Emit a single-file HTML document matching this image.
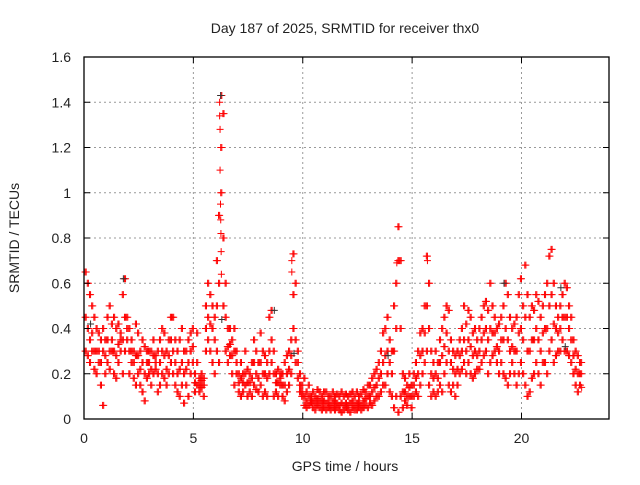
<!DOCTYPE html>
<html><head><meta charset="utf-8"><style>
body{margin:0;background:#fff;}
svg text{font-family:"Liberation Sans",sans-serif;fill:#222;}
</style></head><body>
<svg id="chart" width="640" height="480" viewBox="0 0 640 480" xmlns="http://www.w3.org/2000/svg">
<rect width="640" height="480" fill="#fff"/>
<text x="345" y="33" font-size="14" text-anchor="middle">Day 187 of 2025, SRMTID for receiver thx0</text>
<text x="345" y="471" font-size="14" text-anchor="middle">GPS time / hours</text>
<text x="0" y="0" font-size="14" text-anchor="middle" transform="translate(19,238) rotate(-90)">SRMTID / TECUs</text>
<g id="grid"></g><g id="marks"></g><g id="axes"></g>
</svg>
<script>
const xTicks=[0,5,10,15,20];
const yTicks=[0,0.2,0.4,0.6,0.8,1,1.2,1.4,1.6];
const yTickLabels=["0","0.2","0.4","0.6","0.8","1","1.2","1.4","1.6"];
const srmtidUpper=[.65,.6,.55,.5,.45,.4,.38,.35,.4,.35,
.45,.5,.42,.45,.4,.42,.38,.55,.62,.45,
.4,.35,.3,.42,.38,.3,.35,.32,.3,.3,
.3,.35,.28,.3,.35,.4,.38,.3,.35,.45,
.45,.35,.3,.35,.4,.3,.3,.35,.38,.4,
.2,.38,.18,.2,.18,.5,.6,.55,.5,.45,
.7,.9,1.43,1.35,.6,.4,.4,.35,.4,.3,
.2,.25,.2,.3,.22,.2,.25,.35,.3,.25,
.38,.3,.28,.25,.45,.48,.3,.2,.22,.2,
.2,.25,.28,.3,.35,.73,.6,.3,.2,.15,
.18,.12,.15,.1,.12,.1,.13,.12,.1,.12,
.12,.1,.1,.12,.1,.11,.1,.12,.1,.11,
.1,.11,.12,.1,.12,.1,.11,.13,.12,.15,
.15,.18,.2,.22,.25,.3,.38,.4,.45,.35,
.3,.5,.6,.85,.7,.2,.18,.15,.2,.15,
.2,.25,.3,.38,.4,.5,.72,.6,.3,.25,
.3,.25,.35,.4,.45,.5,.48,.35,.3,.28,
.3,.35,.4,.5,.42,.48,.45,.38,.4,.35,
.4,.45,.5,.52,.48,.6,.5,.45,.4,.42,
.45,.5,.6,.55,.45,.4,.42,.45,.55,.62,
.5,.68,.55,.45,.5,.48,.55,.52,.45,.5,
.55,.6,.72,.75,.6,.5,.45,.5,.55,.6,
.58,.5,.45,.35,.3,.28,.25,.25];
const srmtidLower=[.3,.28,.25,.3,.22,.2,.25,.15,.06,.2,
.25,.22,.3,.2,.18,.25,.3,.2,.3,.35,
.2,.25,.18,.15,.2,.15,.12,.08,.18,.2,
.15,.2,.22,.12,.15,.2,.18,.15,.2,.25,
.2,.15,.12,.1,.15,.07,.15,.1,.2,.25,
.12,.15,.12,.14,.1,.3,.35,.3,.25,.2,
.3,.25,1.0,.5,.3,.25,.28,.2,.15,.2,
.12,.1,.12,.15,.1,.12,.1,.15,.13,.12,
.15,.1,.12,.1,.2,.25,.1,.12,.1,.15,
.1,.08,.12,.15,.2,.4,.25,.18,.12,.1,
.06,.05,.06,.07,.05,.04,.06,.05,.04,.05,
.04,.05,.04,.05,.04,.05,.04,.03,.04,.05,
.04,.03,.05,.04,.04,.05,.04,.05,.06,.05,
.07,.06,.08,.1,.1,.12,.15,.15,.2,.12,
.1,.05,.1,.03,.1,.05,.08,.06,.1,.05,
.1,.12,.1,.15,.2,.25,.3,.15,.1,.12,
.1,.12,.15,.12,.2,.25,.15,.12,.15,.1,
.15,.2,.22,.25,.2,.25,.2,.18,.2,.22,
.22,.25,.28,.3,.2,.25,.28,.3,.25,.2,
.25,.2,.18,.15,.2,.25,.2,.15,.2,.25,
.2,.15,.1,.12,.18,.2,.25,.2,.15,.25,
.25,.2,.3,.35,.25,.28,.3,.3,.35,.3,
.3,.28,.25,.2,.15,.12,.15,.14];
const srmtidMid=[.45,.4,.35,.38,.3,.3,.3,.25,.3,.28,
.35,.3,.35,.3,.28,.33,.35,.35,.45,.4,
.3,.3,.25,.28,.28,.22,.25,.2,.25,.25,
.22,.28,.25,.2,.25,.3,.28,.22,.28,.35,
.3,.25,.2,.22,.25,.2,.22,.25,.3,.32,
.16,.25,.15,.17,.15,.4,.45,.42,.4,.35,
.5,.6,1.2,.8,.45,.32,.33,.28,.3,.25,
.16,.18,.16,.2,.16,.16,.18,.25,.2,.18,
.25,.2,.2,.18,.3,.35,.2,.16,.16,.18,
.15,.15,.2,.22,.28,.55,.35,.25,.15,.12,
.1,.08,.1,.08,.08,.07,.09,.08,.07,.08,
.07,.07,.06,.08,.07,.07,.06,.07,.06,.07,
.06,.07,.08,.06,.07,.07,.06,.08,.09,.1,
.1,.12,.14,.15,.18,.2,.25,.28,.3,.25,
.2,.3,.4,.7,.4,.12,.12,.1,.14,.1,
.15,.18,.2,.28,.3,.38,.5,.4,.2,.18,
.2,.18,.25,.28,.32,.38,.3,.25,.22,.2,
.22,.28,.3,.35,.3,.35,.32,.28,.3,.28,
.3,.35,.38,.4,.35,.4,.38,.38,.32,.3,
.35,.35,.4,.35,.3,.32,.3,.3,.38,.4,
.35,.45,.3,.3,.35,.35,.4,.35,.3,.38,
.4,.4,.5,.55,.42,.4,.38,.4,.45,.45,
.45,.4,.35,.28,.22,.2,.2,.2];
const spikeHours=[6.2,6.2,6.22,6.22,6.24,6.25,6.26,6.27,6.28,14.3,9.5,9.5,15.7];
const spikeVals=[1.4,1.34,1.28,1.1,0.95,0.88,0.82,0.74,0.64,0.69,0.7,0.65,0.7];
const blackHours=[1.8,6.3,6.25,9.6,13.9,19.2,21.8,22.0,8.7,0.3];
const blackVals=[0.62,0.44,1.43,0.29,0.28,0.6,0.58,0.32,0.48,0.42];

const L=84,R=609,T=57,B=419,X0=0,X1=24,Y0=0,Y1=1.6;
const sx=h=>L+(h-X0)/(X1-X0)*(R-L);
const sy=v=>B-(v-Y0)/(Y1-Y0)*(B-T);
const NS="http://www.w3.org/2000/svg";
function mk(tag,parent,attrs){const e=document.createElementNS(NS,tag);for(const k in attrs)e.setAttribute(k,attrs[k]);parent.appendChild(e);return e;}
const grid=document.getElementById('grid'),marks=document.getElementById('marks'),axes=document.getElementById('axes');
yTicks.forEach((v,i)=>{
  const y=sy(v);
  if(i>0&&i<yTicks.length-1){const g=mk('line',grid,{x1:L,x2:R,y1:y,y2:y,stroke:'#999','stroke-dasharray':'2,3'});
  
  }
  mk('line',axes,{x1:L,x2:L+6,y1:y,y2:y,stroke:'#000'});mk('line',axes,{x1:R,x2:R-6,y1:y,y2:y,stroke:'#000'});
  const t=mk('text',axes,{x:L-13,y:y+5,'font-size':14,'text-anchor':'end'});t.textContent=yTickLabels[i];
  
  
});
xTicks.forEach(h=>{
  const x=sx(h);
  if(h>0){const g=mk('line',grid,{x1:x,x2:x,y1:T,y2:B,stroke:'#999','stroke-dasharray':'2,3'});
  
  }
  mk('line',axes,{x1:x,x2:x,y1:B,y2:B-6,stroke:'#000'});mk('line',axes,{x1:x,x2:x,y1:T,y2:T+6,stroke:'#000'});
  const t=mk('text',axes,{x:x,y:B+24,'font-size':14,'text-anchor':'middle'});t.textContent=String(h);
  
  
});
const frame=mk('rect',axes,{x:L,y:T,width:R-L,height:B-T,fill:'none',stroke:'#000','stroke-width':1.3});


function plus(h,v,color){
  const x=sx(h),y=sy(v);
  const p=mk('path',marks,{d:`M${x-3.5},${y}h7M${x},${y-3.5}v7`,stroke:color,'stroke-width':1,fill:'none'});
  
  
}
[srmtidUpper,srmtidMid,srmtidLower].forEach(arr=>arr.forEach((v,i)=>plus(i*0.1+0.05,v,'#f00')));
[srmtidUpper,srmtidMid,srmtidLower].forEach(arr=>arr.forEach((v,i)=>{if(i+1<arr.length)plus(i*0.1+0.1,(v+arr[i+1])/2*0+v,'#f00');}));
blackHours.forEach((h,i)=>plus(h,blackVals[i],'#333'));
spikeHours.forEach((h,i)=>plus(h,spikeVals[i],'#f00'));
</script>
</body></html>
